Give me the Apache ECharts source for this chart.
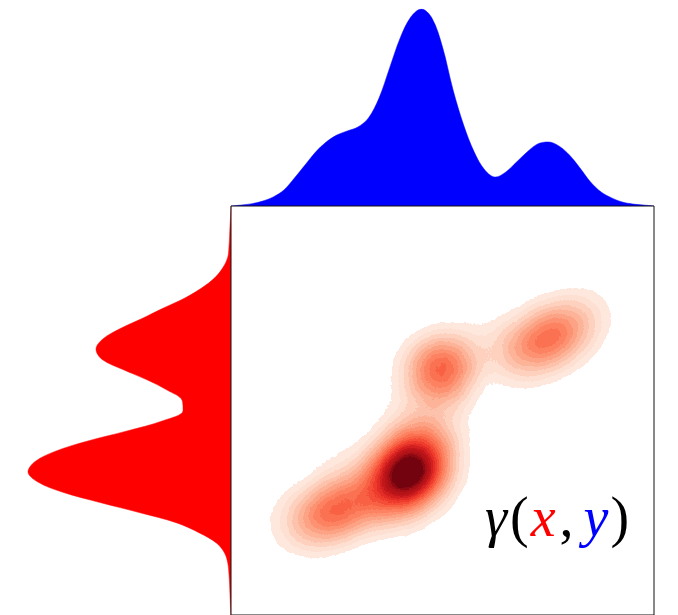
<!DOCTYPE html>
<html>
<head>
<meta charset="utf-8">
<script src="https://cdn.jsdelivr.net/npm/echarts@6/dist/echarts.min.js"></script>
<style>
html,body{margin:0;padding:0;background:#ffffff;}
#chart{width:678px;height:615px;}
</style>
</head>
<body>
<div id="chart"></div>
<script>
// ---------- DATA ----------
// Top marginal (blue): positions along the shared x axis (0..100) and relative density
const topX = [0,2.5,5,7.5,10,12.5,15,17.5,20,22.5,25,27.5,30,32.5,35,37.5,40,42.5,45,47.5,50,52.5,55,57.5,60,62.5,65,67.5,70,72.5,75,77.5,80,82.5,85,87.5,90,92.5,95,97.5,100];
const topDensity = [0,0.005,0.012,0.025,0.046,0.081,0.142,0.208,0.274,0.325,0.360,0.381,0.401,0.447,0.548,0.701,0.853,0.959,1.000,0.954,0.807,0.589,0.411,0.274,0.183,0.147,0.173,0.223,0.274,0.315,0.325,0.305,0.259,0.193,0.122,0.071,0.041,0.020,0.010,0.005,0];

// Left marginal (red): positions along the shared y axis (0 = top .. 100) and relative density
const leftY = [0,2.5,5,7.5,10,12.5,15,17.5,20,22.5,25,27.5,30,32.5,35,37.5,40,42.5,45,47.5,50,52.5,55,57.5,60,62.5,65,67.5,70,72.5,75,77.5,80,82.5,85,87.5,90,92.5,95,97.5,100];
const leftDensity = [0,0.002,0.005,0.007,0.010,0.016,0.039,0.079,0.143,0.227,0.335,0.438,0.547,0.631,0.665,0.635,0.532,0.414,0.315,0.241,0.236,0.335,0.512,0.709,0.867,0.966,1.000,0.951,0.828,0.645,0.448,0.266,0.153,0.069,0.030,0.015,0.010,0.007,0.005,0.003,0.002];

// Joint plan gamma(x, y): mass points (x, y in 0..100, y downward) and weights
const jointX = [41.84,47.19,36.50,47.12,41.77,36.57,41.91, 37.59,24.82,19.93,29.72,15.04,26.95,21.28, 50.12,48.51,51.73,52.72,47.52,42.79, 47.04,41.13,52.96,61.23, 74.94,70.00,79.88,65.06,84.82];
const jointY = [62.88,57.54,68.23,62.81,68.16,62.96,57.61, 73.05,71.87,73.64,70.09,75.41,61.94,77.78, 38.53,42.22,34.85,39.67,37.40,39.24, 50.12,49.41,50.59,31.68, 31.21,34.04,28.37,36.88,25.53];
const jointW = [0.400,0.150,0.150,0.150,0.150,0.150,0.150, 0.030,0.210,0.140,0.170,0.065,0.050,0.020, 0.140,0.087,0.087,0.084,0.084,0.050, 0.070,0.045,0.030,0.050, 0.220,0.150,0.150,0.046,0.046];

const labelParts = ['γ', '(', 'x', ',', 'y', ')'];

// ---------- STYLE / RENDER PARAMETERS ----------
const BOX_L = 231, BOX_T = 206, BOX_S = 423;
const POINT_SIZE = 20, BLUR_SIZE = 39;
const BRUSH_PEAK = 0.406;  // calibration of the blurred brush
const PEAK_SUM = 0.878;    // weighted sum reached at the densest spot
const VM_MAX = 0.4;
const N_LEVELS = 20;

const REDS = ['#fff5f0','#fee0d2','#fcbba1','#fc9272','#fb6a4a','#ef3b2c','#cb181d','#a50f15','#67000d'];
function hex2rgb(h){return [parseInt(h.substr(1,2),16),parseInt(h.substr(3,2),16),parseInt(h.substr(5,2),16)];}
function reds(t){
  t = Math.max(0, Math.min(1, t));
  const p = t * (REDS.length - 1);
  const i = Math.min(REDS.length - 2, Math.floor(p));
  const f = p - i;
  const a = hex2rgb(REDS[i]), b = hex2rgb(REDS[i + 1]);
  return 'rgb(' + a.map((v, k) => Math.round(v + (b[k] - v) * f)).join(',') + ')';
}
const D_TOP = BRUSH_PEAK * PEAK_SUM / VM_MAX;
const ramp = [];
for (let i = 0; i < 256; i++) {
  const a = Math.min(0.999, (i + 1) / 255);
  const s = -Math.log(1 - a) / D_TOP;
  let k = Math.floor(s * N_LEVELS);
  if (k < 1) { ramp.push('rgba(255,255,255,0)'); }
  else { k = Math.min(k, N_LEVELS - 1); ramp.push(reds((k + 0.5) / N_LEVELS)); }
}

echarts.registerMap('planBox', {
  type: 'FeatureCollection',
  features: [{ type: 'Feature', properties: { name: 'box' },
    geometry: { type: 'Polygon', coordinates: [[[0,0],[100,0],[100,100],[0,100],[0,0]]] } }]
});

const jointData = jointX.map((x, i) => [x, 100 - jointY[i], jointW[i]]);

const chart = echarts.init(document.getElementById('chart'));
const serif = 'Liberation Serif';
const FS = 56;
chart.setOption({
  animation: false,
  backgroundColor: '#ffffff',
  grid: [
    { left: BOX_L, top: 9, width: BOX_S, height: 197, show: false },
    { left: 28, top: BOX_T, width: 203, height: BOX_S, show: false },
    { left: BOX_L, top: BOX_T, width: BOX_S, height: BOX_S, show: true, borderColor: '#111', borderWidth: 1, backgroundColor: 'transparent', z: 5 }
  ],
  xAxis: [
    { gridIndex: 0, type: 'category', data: topX, boundaryGap: false, show: false },
    { gridIndex: 1, type: 'value', min: 0, max: 1, inverse: true, show: false },
    { gridIndex: 2, type: 'value', min: 0, max: 100, show: false }
  ],
  yAxis: [
    { gridIndex: 0, type: 'value', min: 0, max: 1, show: false },
    { gridIndex: 1, type: 'category', data: leftY, boundaryGap: false, inverse: true, show: false },
    { gridIndex: 2, type: 'value', min: 0, max: 100, inverse: true, show: false }
  ],
  geo: {
    map: 'planBox', roam: false, silent: true, aspectScale: 1,
    left: BOX_L, top: BOX_T, width: BOX_S, height: BOX_S,
    label: { show: false },
    itemStyle: { areaColor: 'rgba(0,0,0,0)', borderColor: 'rgba(0,0,0,0)', borderWidth: 0 },
    emphasis: { disabled: true },
    select: { disabled: true },
    z: 1
  },
  visualMap: {
    show: false, type: 'continuous', min: 0, max: VM_MAX, seriesIndex: 2,
    inRange: { color: ramp }
  },
  series: [
    {
      type: 'line', xAxisIndex: 0, yAxisIndex: 0, data: topDensity,
      smooth: 0.35, symbol: 'none', silent: true,
      lineStyle: { color: '#0000ff', width: 0.5 },
      areaStyle: { color: '#0000ff', opacity: 1 }
    },
    {
      type: 'line', xAxisIndex: 1, yAxisIndex: 1, data: leftDensity,
      smooth: 0.35, symbol: 'none', silent: true,
      lineStyle: { color: '#ff0000', width: 0.5 },
      areaStyle: { color: '#ff0000', opacity: 1 }
    },
    {
      type: 'heatmap', coordinateSystem: 'geo', geoIndex: 0,
      pointSize: POINT_SIZE, blurSize: BLUR_SIZE, minOpacity: 1, maxOpacity: 1,
      data: jointData, silent: true, z: 2
    }
  ],
  graphic: [{
    type: 'text', left: 485, top: 493, z: 20, silent: true,
    style: {
      text: '{g|' + labelParts[0] + '}{p|' + labelParts[1] + '}{x|' + labelParts[2] + '}{c|' + labelParts[3] + '}{y|' + labelParts[4] + '}{p|' + labelParts[5] + '}',
      rich: {
        g: { fontFamily: serif, fontStyle: 'italic', fontSize: FS, fill: '#000000', padding: [0, 3, 0, 0] },
        p: { fontFamily: serif, fontSize: FS, fill: '#000000' },
        x: { fontFamily: serif, fontStyle: 'italic', fontSize: FS, fill: '#ff0000', padding: [0, 2, 0, 2] },
        c: { fontFamily: serif, fontSize: FS, fill: '#000000', padding: [0, 10, 0, 2] },
        y: { fontFamily: serif, fontStyle: 'italic', fontSize: FS, fill: '#0000ff', padding: [0, 2, 0, 0] }
      }
    }
  }]
});
</script>
</body>
</html>
